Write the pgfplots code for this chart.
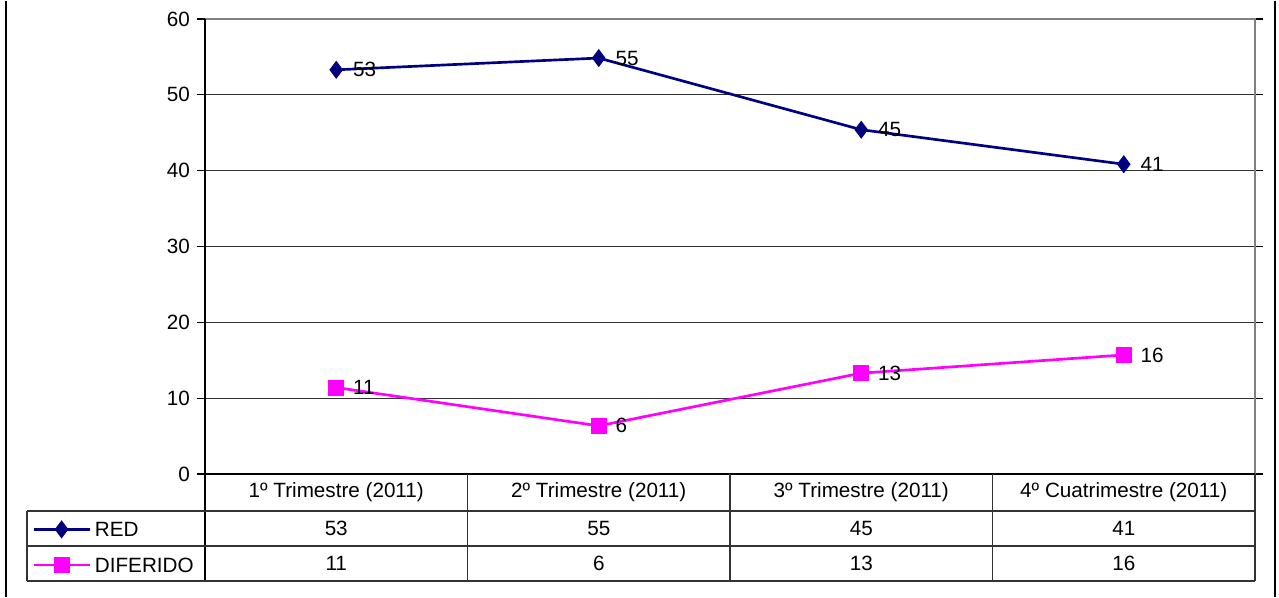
\documentclass[border=0pt]{standalone}
\usepackage{fontspec}
\setmainfont{Liberation Sans}
\usepackage{pgfplots}
\pgfplotsset{compat=1.18}
\definecolor{rednavy}{HTML}{000080}
\definecolor{dif}{HTML}{FF00FF}
\definecolor{gridc}{HTML}{333333}
\definecolor{borderc}{HTML}{808080}
\begin{document}
\fontsize{15.5}{18}\selectfont
\begin{tikzpicture}
% pixel frame: 1px = 0.75pt, origin at the axis' lower left corner
\begin{scope}[x=0.75pt,y=-0.75pt,shift={(-153.75pt,354.75pt)}]
  \useasboundingbox (0,0) rectangle (1279,596);
\end{scope}
\begin{axis}[
  at={(0,0)}, anchor=south west,
  scale only axis, width=787.5pt, height=341.25pt,
  xmin=-0.5, xmax=3.5, ymin=0, ymax=60,
  xtick=\empty, ytick={0,10,...,60},
  ymajorgrids, grid style={gridc, line width=0.8pt},
  axis line style={draw=none},
  tick align=outside, major tick length=6pt,
  ytick style={black, line width=0.8pt},
  tick label style={font=\fontsize{15.5}{18}\selectfont},
  /pgf/number format/assume math mode=true,
  clip=false,
  nodes near coords, point meta=explicit symbolic,
  nodes near coords style={anchor=west, xshift=7pt, font=\fontsize{15.5}{18}\selectfont, text=black},
  legend style={at={(axis description cs:-0.16476,-0.1035)}, anchor=north west,
    draw=none, fill=none, inner sep=0pt, row sep=15.15pt, column sep=3pt,
    nodes={inner sep=0pt, text height=11.1pt, text depth=0pt, font=\fontsize{15.5}{18}\selectfont}},
  legend cell align=left,
  legend image code/.code={\draw[mark repeat=2,mark phase=2] plot coordinates {(0pt,0pt)(21pt,0pt)(42pt,0pt)};},
]
\addplot[rednavy, line width=2pt, mark=diamond*, mark size=6pt, mark options={fill=rednavy, line width=1pt}]
  coordinates {(0,53.3) [53] (1,54.85) [55] (2,45.4) [45] (3,40.85) [41]};
\addlegendentry{RED}
\addplot[dif, line width=2pt, mark=square*, mark size=5.5pt, mark options={fill=dif, line width=1pt}]
  coordinates {(0,11.4) [11] (1,6.35) [6] (2,13.3) [13] (3,15.7) [16]};
\addlegendentry{DIFERIDO}
\end{axis}
\begin{scope}[x=0.75pt,y=-0.75pt,shift={(-153.75pt,354.75pt)}]
  \draw[black, line width=1.5pt] (6.5,0)--(6.5,596) (1274.5,0)--(1274.5,596);
  \draw[borderc, line width=2pt] (205,18)--(1255,18)--(1255,473);
  \draw[black, line width=1pt] (205,18)--(205,580) (205,473)--(1255,473);
  \draw[gridc, line width=0.8pt]
    (27,510)--(1255,510) (27,545)--(1255,545) (27,580)--(1255,580)
    (27,510)--(27,580) (467.5,473)--(467.5,580) (730,473)--(730,580)
    (992.5,473)--(992.5,580) (1255,473)--(1255,580);
  \foreach \cx/\cat/\r/\d in {336.25/{1º Trimestre (2011)}/53/11,
      598.75/{2º Trimestre (2011)}/55/6,
      861.25/{3º Trimestre (2011)}/45/13,
      1123.75/{4º Cuatrimestre (2011)}/41/16} {
    \node at (\cx,491.5) {\cat};
    \node at (\cx,527.5) {\r};
    \node at (\cx,562.5) {\d};
  }
\end{scope}
\end{tikzpicture}
\end{document}
